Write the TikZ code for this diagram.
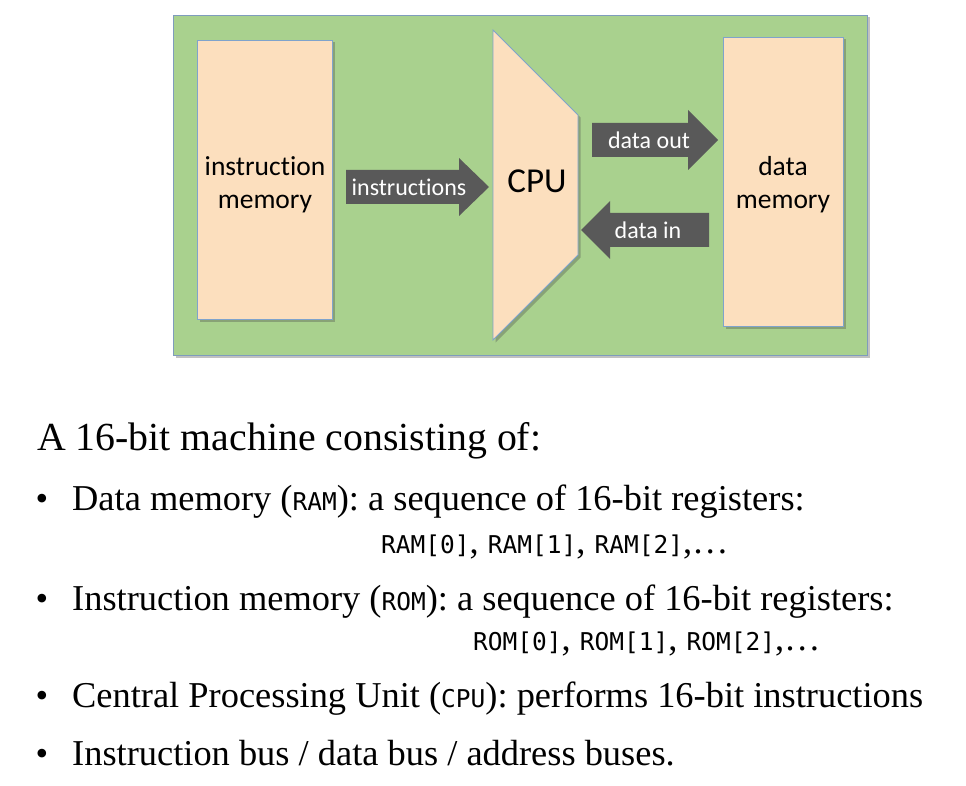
\documentclass[tikz,border=0pt]{standalone}
\usepackage{fontspec}
\setmainfont{Liberation Serif}
\newfontfamily\calfont[RawFeature=-liga;-dlig]{Carlito}
\newfontfamily\monofont{DejaVu Sans Mono}
\usetikzlibrary{shadows}
\definecolor{bggreen}{HTML}{A9D18E}
\definecolor{peach}{HTML}{FCDFBE}
\definecolor{edgeblue}{HTML}{7FA3CC}
\definecolor{arrowgray}{HTML}{595959}
\newcommand{\mt}[1]{{\monofont\fontsize{24.5}{28}\selectfont #1}}
\begin{document}
\begin{tikzpicture}[x=1pt,y=-1pt,
  shade/.style={drop shadow={shadow xshift=2.5pt,shadow yshift=-2.5pt,opacity=0.35,fill=black!70}},
  panel/.style={draw=edgeblue!80!gray,line width=0.8pt,fill=bggreen,shade,inner sep=0pt},
  membox/.style={draw=edgeblue,line width=0.8pt,fill=peach,shade,inner sep=0pt},
  memtext/.style={font=\calfont\fontsize{27.5}{33}\selectfont,align=center,text=black},
  arrtext/.style={font=\calfont\fontsize{24}{28}\selectfont,text=white,inner sep=0pt},
  blockarrow/.style={fill=arrowgray},
  heading/.style={anchor=base west,inner sep=0pt,font=\fontsize{39.8}{46}\selectfont},
  item/.style={anchor=base west,inner sep=0pt,font=\fontsize{36.4}{42}\selectfont},
  bullet/.style={anchor=base,inner sep=0pt,font=\fontsize{36}{42}\selectfont}
]
\useasboundingbox (0,0) rectangle (966,786);

% background panel
\node[panel,minimum width=694,minimum height=340] (panel) at (520,185) {};

% memories
\node[membox,minimum width=135,minimum height=279] (im) at (264.5,179.5) {};
\node[memtext] (imtext) at (265,185) {instruction\\memory};
\node[membox,minimum width=120,minimum height=289] (dm) at (783,181.5) {};
\node[memtext] (dmtext) at (783,185) {data\\memory};

% CPU
\filldraw[draw=edgeblue,line width=0.8pt,fill=peach,shade]
  (493,30) -- (578,115) -- (578,255) -- (493,340) -- cycle;
\node[font=\calfont\fontsize{35}{40}\selectfont] (cpu) at (537,181) {CPU};

% block arrows
\fill[blockarrow] (346,170) -- (459,170) -- (459,158) -- (489,187) -- (459,216) -- (459,204) -- (346,204) -- cycle;
\node[arrtext] (instr) at (409,187) {instructions};

\fill[blockarrow] (592,123) -- (688,123) -- (688,110) -- (718,140) -- (688,170) -- (688,157) -- (592,157) -- cycle;
\node[arrtext] (dout) at (649,140) {data out};

\fill[blockarrow] (709,213) -- (610,213) -- (610,201) -- (581,230) -- (610,259) -- (610,247) -- (709,247) -- cycle;
\node[arrtext] (din) at (648,230) {data in};

% text
\node[heading] (h) at (37,450) {A 16-bit machine consisting of:};

\node[bullet] (b1) at (42,510) {•};
\node[item] (t1) at (72,510) {Data memory (\mt{RAM}): a sequence of 16-bit registers:};
\node[item] (t1b) at (381,553) {\mt{RAM[0]}, \mt{RAM[1]}, \mt{RAM[2]},…};

\node[bullet] (b2) at (42,610) {•};
\node[item] (t2) at (72,610) {Instruction memory (\mt{ROM}): a sequence of 16-bit registers:};
\node[item] (t2b) at (473,650) {\mt{ROM[0]}, \mt{ROM[1]}, \mt{ROM[2]},…};

\node[bullet] (b3) at (42,707) {•};
\node[item] (t3) at (72,707) {Central Processing Unit (\mt{CPU}): performs 16-bit instructions};

\node[bullet] (b4) at (42,765) {•};
\node[item] (t4) at (72,765) {Instruction bus / data bus / address buses.};
\end{tikzpicture}
\end{document}
